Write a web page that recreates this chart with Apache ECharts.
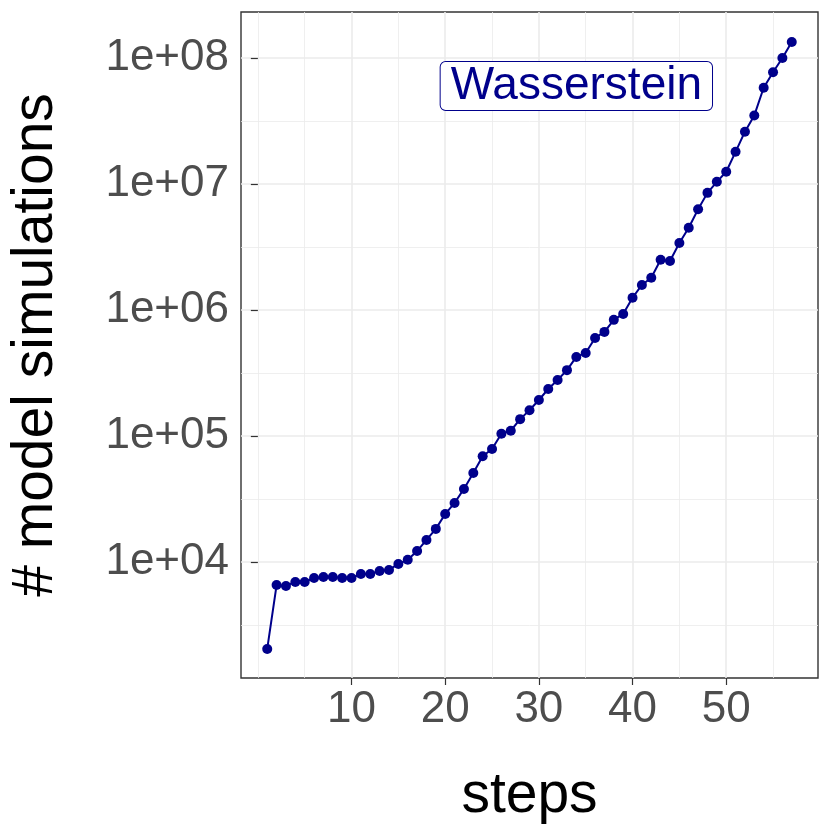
<!DOCTYPE html>
<html>
<head>
<meta charset="utf-8">
<script src="https://cdn.jsdelivr.net/npm/echarts@6/dist/echarts.min.js"></script>
<style>html,body{margin:0;padding:0;background:#fff;}#c{width:830px;height:830px;}</style>
</head>
<body>
<div id="c"></div>
<script>
const steps = [];
for (let i = 1; i <= 57; i++) steps.push(i);
const simulations = [
  2040, 6560, 6450, 6940, 6940, 7460, 7600, 7600, 7460, 7460,
  8030, 8030, 8480, 8640, 9640, 10400, 12200, 14950, 18300, 24000,
  29400, 38000, 50900, 69000, 78700, 104000, 110000, 136000, 160000, 193000,
  236000, 278000, 333000, 424000, 456000, 600000, 670000, 835000, 930000, 1250000,
  1580000, 1800000, 2500000, 2450000, 3400000, 4500000, 6300000, 8500000, 10400000, 12500000,
  18000000, 26000000, 35000000, 58000000, 77000000, 100000000, 134000000
];
const xMajor = [10, 20, 30, 40, 50];
const xMinor = [0, 5, 15, 25, 35, 45, 55];
const yMajor = [1e4, 1e5, 1e6, 1e7, 1e8];
const yMajorLabels = ['1e+04', '1e+05', '1e+06', '1e+07', '1e+08'];
const yMinor = [3162.28, 31622.8, 316228, 3162280, 31622800];
const annotation = {x: 34.0, y: 6e7, text: 'Wasserstein'};

const xMin = -1.8, xMax = 59.8;
const yMin = Math.pow(10, 3.079), yMax = Math.pow(10, 8.365);
const FONT = '"Liberation Sans", Arial, Helvetica, sans-serif';
const grey = '#EBEBEB';

const minorLines = xMinor.map(v => ({xAxis: v})).concat(yMinor.map(v => ({yAxis: v})));

const chart = echarts.init(document.getElementById('c'), null, {renderer: 'canvas'});
const option = {
  animation: false,
  backgroundColor: '#ffffff',
  grid: {left: 241, right: 12, top: 12, bottom: 152, show: true, borderColor: '#333333', borderWidth: 1.4, backgroundColor: 'transparent', containLabel: false, outerBoundsMode: 'none'},
  xAxis: {
    type: 'value', min: xMin, max: xMax,
    axisLine: {show: false},
    axisTick: {show: true, length: 7, lineStyle: {color: '#333333', width: 1.2}, customValues: xMajor},
    axisLabel: {show: true, customValues: xMajor, fontSize: 44, color: '#4D4D4D', fontFamily: FONT, margin: 10},
    splitLine: {show: true, customValues: xMajor, lineStyle: {color: grey, width: 1.6}},
    name: 'steps', nameLocation: 'middle', nameGap: 90,
    nameTextStyle: {fontSize: 57, color: '#000000', fontFamily: FONT}
  },
  yAxis: {
    type: 'log', logBase: 10, min: yMin, max: yMax,
    axisLine: {show: false},
    axisTick: {show: true, length: 7, lineStyle: {color: '#333333', width: 1.2}, customValues: yMajor},
    axisLabel: {show: true, customValues: yMajor, fontSize: 44, color: '#4D4D4D', fontFamily: FONT, margin: 12,
      formatter: function (v) { const i = yMajor.findIndex(m => Math.abs(Math.log10(m) - Math.log10(v)) < 1e-6); return i >= 0 ? yMajorLabels[i] : ''; }},
    splitLine: {show: true, customValues: yMajor, lineStyle: {color: grey, width: 1.6}},
    name: '# model simulations', nameLocation: 'middle', nameGap: 176,
    nameTextStyle: {fontSize: 57, color: '#000000', fontFamily: FONT}
  },
  series: [
    {
      type: 'line', data: [], z: 1, silent: true,
      markLine: {
        silent: true, symbol: ['none', 'none'], animation: false,
        label: {show: false},
        lineStyle: {color: grey, width: 0.8, type: 'solid'},
        emphasis: {disabled: true},
        data: minorLines
      }
    },
    {
      type: 'line',
      data: steps.map((s, i) => [s, simulations[i]]),
      symbol: 'circle', symbolSize: 10, showSymbol: true,
      lineStyle: {color: '#00008B', width: 2},
      itemStyle: {color: '#00008B'},
      z: 5
    },
    {
      type: 'scatter',
      data: [[annotation.x, annotation.y]],
      symbolSize: 1, itemStyle: {color: 'rgba(0,0,0,0)', opacity: 1},
      label: {show: true, position: 'inside', formatter: annotation.text,
        fontSize: 46, color: '#00008B', fontFamily: FONT,
        backgroundColor: '#ffffff', borderColor: '#00008B', borderWidth: 1, borderRadius: 5,
        padding: [3, 10, 1, 10], lineHeight: 44},
      z: 6
    }
  ]
};
chart.setOption(option);
</script>
</body>
</html>
